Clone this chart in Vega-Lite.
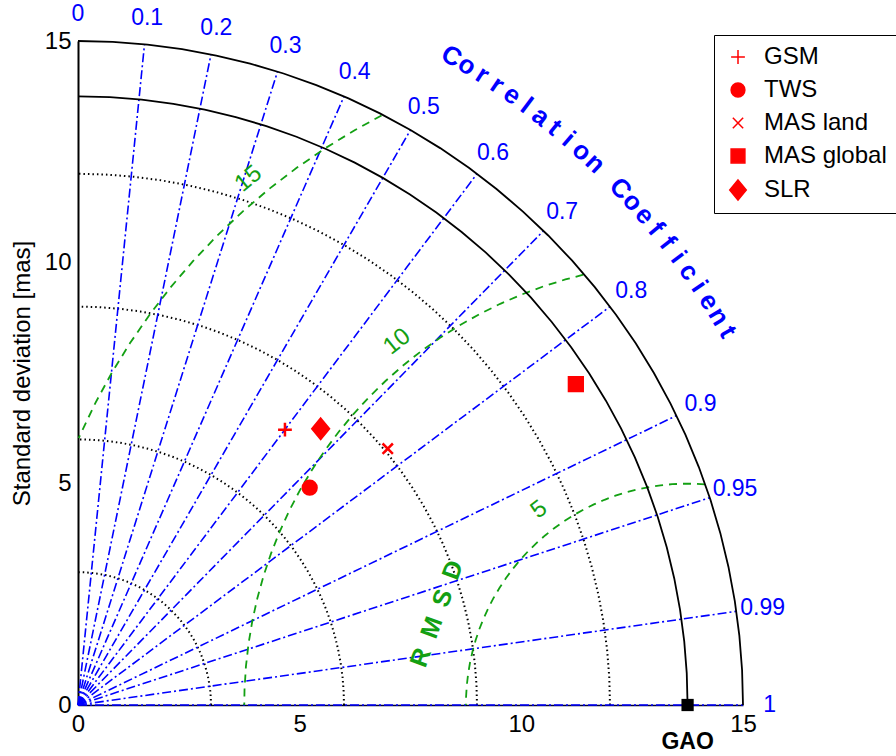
{
  "$schema": "https://vega.github.io/schema/vega-lite/v6.json",
  "width": 665,
  "height": 664,
  "autosize": {"type": "none"},
  "padding": {"left": 78, "top": 41, "right": 153, "bottom": 51},
  "background": "white",
  "config": {"view": {"stroke": null}, "font": "Liberation Sans"},
  "datasets": {
    "arcs": [
      {"id": "d3", "kind": "dot", "cx": 0, "r": 3, "deg": [0,3,6,9,12,15,18,21,24,27,30,33,36,39,42,45,48,51,54,57,60,63,66,69,72,75,78,81,84,87,90]},
      {"id": "d6", "kind": "dot", "cx": 0, "r": 6, "deg": [0,3,6,9,12,15,18,21,24,27,30,33,36,39,42,45,48,51,54,57,60,63,66,69,72,75,78,81,84,87,90]},
      {"id": "d9", "kind": "dot", "cx": 0, "r": 9, "deg": [0,3,6,9,12,15,18,21,24,27,30,33,36,39,42,45,48,51,54,57,60,63,66,69,72,75,78,81,84,87,90]},
      {"id": "d12", "kind": "dot", "cx": 0, "r": 12, "deg": [0,3,6,9,12,15,18,21,24,27,30,33,36,39,42,45,48,51,54,57,60,63,66,69,72,75,78,81,84,87,90]},
      {"id": "sref", "kind": "solid", "cx": 0, "r": 13.75, "deg": [0,3,6,9,12,15,18,21,24,27,30,33,36,39,42,45,48,51,54,57,60,63,66,69,72,75,78,81,84,87,90]},
      {"id": "s15", "kind": "solid", "cx": 0, "r": 15, "deg": [0,3,6,9,12,15,18,21,24,27,30,33,36,39,42,45,48,51,54,57,60,63,66,69,72,75,78,81,84,87,90]},
      {"id": "g5", "kind": "rms", "cx": 13.75, "r": 5, "deg": [85.5,88,91,94,97,100,103,106,109,112,115,118,121,124,127,130,133,136,139,142,145,148,151,154,157,160,163,166,169,172,175,178,180]},
      {"id": "g10", "kind": "rms", "cx": 13.75, "r": 10, "deg": [103.6,106,109,112,115,118,121,124,127,130,133,136,139,142,145,148,151,154,157,160,163,166,169,172,175,178,180]},
      {"id": "g15", "kind": "rms", "cx": 13.75, "r": 15, "deg": [117.4,120,123,126,129,132,135,138,141,144,147,150,153,156.3]}
    ],
    "corr": [
      {"c": 0, "label": "0"},
      {"c": 0.1, "label": "0.1"},
      {"c": 0.2, "label": "0.2"},
      {"c": 0.3, "label": "0.3"},
      {"c": 0.4, "label": "0.4"},
      {"c": 0.5, "label": "0.5"},
      {"c": 0.6, "label": "0.6"},
      {"c": 0.7, "label": "0.7"},
      {"c": 0.8, "label": "0.8"},
      {"c": 0.9, "label": "0.9"},
      {"c": 0.95, "label": "0.95"},
      {"c": 0.99, "label": "0.99"},
      {"c": 1, "label": "1"}
    ],
    "ctitle": [
      {"ch": "C", "theta": 60.10}, {"ch": "o", "theta": 58.73}, {"ch": "r", "theta": 57.35},
      {"ch": "r", "theta": 55.98}, {"ch": "e", "theta": 54.61}, {"ch": "l", "theta": 53.24},
      {"ch": "a", "theta": 51.86}, {"ch": "t", "theta": 50.49}, {"ch": "i", "theta": 49.12},
      {"ch": "o", "theta": 47.74}, {"ch": "n", "theta": 46.37},
      {"ch": "C", "theta": 43.62}, {"ch": "o", "theta": 42.25}, {"ch": "e", "theta": 40.88},
      {"ch": "f", "theta": 39.51}, {"ch": "f", "theta": 38.13}, {"ch": "i", "theta": 36.76},
      {"ch": "c", "theta": 35.39}, {"ch": "i", "theta": 34.01}, {"ch": "e", "theta": 32.64},
      {"ch": "n", "theta": 31.27}, {"ch": "t", "theta": 29.90}
    ],
    "rmslab": [
      {"label": "5", "d": 5.54, "phi": 127.2},
      {"label": "10", "d": 10.5, "phi": 128.6},
      {"label": "15", "d": 15.47, "phi": 129.8},
      {"label": "R\u2002M\u2002S\u2002D", "d": 6.02, "phi": 160}
    ],
    "obs": [
      {"name": "GSM", "std": 7.776, "corr": 0.6003},
      {"name": "TWS", "std": 7.171, "corr": 0.7288},
      {"name": "MAS land", "std": 9.074, "corr": 0.7699},
      {"name": "MAS global", "std": 13.367, "corr": 0.8401},
      {"name": "SLR", "std": 8.302, "corr": 0.6593},
      {"name": "GAO", "std": 13.75, "corr": 1}
    ]
  },
  "encoding": {
    "x": {
      "field": "x", "type": "quantitative",
      "scale": {"domain": [0, 15], "nice": false, "zero": false},
      "axis": {"values": [0, 5, 10, 15], "grid": false, "ticks": false, "title": null, "labelFontSize": 24, "labelColor": "black", "labelPadding": 7, "labelFlush": false, "domainColor": "#000030", "domainWidth": 1.5}
    },
    "y": {
      "field": "y", "type": "quantitative",
      "scale": {"domain": [0, 15], "nice": false, "zero": false},
      "axis": {"values": [0, 5, 10, 15], "grid": false, "ticks": false, "title": "Standard deviation [mas]", "titleFontSize": 24, "titleFontWeight": "normal", "titleColor": "black", "titlePadding": 10, "labelFontSize": 24, "labelColor": "black", "labelPadding": 7, "labelFlush": false, "domainColor": "black", "domainWidth": 2}
    }
  },
  "layer": [
    {
      "data": {"name": "arcs"},
      "transform": [
        {"filter": "datum.kind === 'dot'"},
        {"flatten": ["deg"]},
        {"calculate": "datum.cx + datum.r * cos(datum.deg * PI / 180)", "as": "x"},
        {"calculate": "datum.r * sin(datum.deg * PI / 180)", "as": "y"}
      ],
      "mark": {"type": "line", "color": "black", "strokeWidth": 2, "strokeDash": [1.5, 3]},
      "encoding": {"detail": {"field": "id"}, "order": {"field": "deg", "type": "quantitative"}}
    },
    {
      "data": {"name": "corr"},
      "transform": [
        {"filter": "datum.c > 0"},
        {"calculate": "0", "as": "x"},
        {"calculate": "0", "as": "y"},
        {"calculate": "15 * datum.c", "as": "x2"},
        {"calculate": "15 * sqrt(1 - datum.c * datum.c)", "as": "y2"}
      ],
      "mark": {"type": "rule", "color": "#0000ff", "strokeWidth": 1.6, "strokeDash": [9, 3, 2, 3]},
      "encoding": {"x2": {"field": "x2"}, "y2": {"field": "y2"}}
    },
    {
      "data": {"name": "arcs"},
      "transform": [
        {"filter": "datum.kind === 'rms'"},
        {"flatten": ["deg"]},
        {"calculate": "datum.cx + datum.r * cos(datum.deg * PI / 180)", "as": "x"},
        {"calculate": "datum.r * sin(datum.deg * PI / 180)", "as": "y"}
      ],
      "mark": {"type": "line", "color": "#13a013", "strokeWidth": 1.8, "strokeDash": [8, 6]},
      "encoding": {"detail": {"field": "id"}, "order": {"field": "deg", "type": "quantitative"}}
    },
    {
      "data": {"name": "arcs"},
      "transform": [
        {"filter": "datum.kind === 'solid'"},
        {"flatten": ["deg"]},
        {"calculate": "datum.cx + datum.r * cos(datum.deg * PI / 180)", "as": "x"},
        {"calculate": "datum.r * sin(datum.deg * PI / 180)", "as": "y"}
      ],
      "mark": {"type": "line", "color": "black", "strokeWidth": 1.8},
      "encoding": {"detail": {"field": "id"}, "order": {"field": "deg", "type": "quantitative"}}
    },
    {
      "data": {"name": "corr"},
      "transform": [
        {"calculate": "15.6 * datum.c", "as": "x"},
        {"calculate": "15.6 * sqrt(1 - datum.c * datum.c)", "as": "y"}
      ],
      "mark": {"type": "text", "color": "#0000ff", "fontSize": 23, "align": "center", "baseline": "middle"},
      "encoding": {"text": {"field": "label"}}
    },
    {
      "data": {"name": "ctitle"},
      "transform": [
        {"calculate": "16.9 * cos(datum.theta * PI / 180)", "as": "x"},
        {"calculate": "16.9 * sin(datum.theta * PI / 180)", "as": "y"},
        {"calculate": "90 - datum.theta", "as": "rot"}
      ],
      "mark": {"type": "text", "color": "#0000ff", "fontSize": 26, "fontWeight": "bold", "align": "center", "baseline": "middle"},
      "encoding": {"text": {"field": "ch"}, "angle": {"field": "rot", "type": "quantitative", "scale": null}}
    },
    {
      "data": {"name": "rmslab"},
      "transform": [
        {"filter": "datum.phi < 150"},
        {"calculate": "13.75 + datum.d * cos(datum.phi * PI / 180)", "as": "x"},
        {"calculate": "datum.d * sin(datum.phi * PI / 180)", "as": "y"},
        {"calculate": "90 - datum.phi", "as": "rot"}
      ],
      "mark": {"type": "text", "color": "#13a013", "fontSize": 24, "align": "center", "baseline": "middle"},
      "encoding": {"text": {"field": "label"}, "angle": {"field": "rot", "type": "quantitative", "scale": null}}
    },
    {
      "data": {"name": "rmslab"},
      "transform": [
        {"filter": "datum.phi >= 150"},
        {"calculate": "13.75 + datum.d * cos(datum.phi * PI / 180)", "as": "x"},
        {"calculate": "datum.d * sin(datum.phi * PI / 180)", "as": "y"},
        {"calculate": "90 - datum.phi", "as": "rot"}
      ],
      "mark": {"type": "text", "color": "#13a013", "fontSize": 25, "fontWeight": "bold", "align": "center", "baseline": "middle"},
      "encoding": {"text": {"field": "label"}, "angle": {"field": "rot", "type": "quantitative", "scale": null}}
    },
    {
      "data": {"name": "obs"},
      "transform": [
        {"filter": "datum.name !== 'GAO'"},
        {"calculate": "datum.std * datum.corr", "as": "x"},
        {"calculate": "datum.std * sqrt(1 - datum.corr * datum.corr)", "as": "y"}
      ],
      "mark": {"type": "point", "filled": true, "color": "red", "stroke": "red", "strokeWidth": 2.5, "opacity": 1, "size": 190},
      "encoding": {
        "shape": {
          "field": "name", "type": "nominal",
          "scale": {
            "domain": ["GSM", "TWS", "MAS land", "MAS global", "SLR"],
            "range": ["M-1,0L1,0M0,-1L0,1", "circle", "M-0.75,-0.75L0.75,0.75M-0.75,0.75L0.75,-0.75", "square", "M0,-1.45L1.2,0L0,1.45L-1.2,0Z"]
          },
          "legend": {
            "title": null, "orient": "none", "legendX": 636, "legendY": -6,
            "strokeColor": "black", "fillColor": "white", "padding": 10,
            "labelFontSize": 24, "labelColor": "black", "labelFont": "Liberation Sans", "labelOffset": 14,
            "symbolOffset": 2,
            "rowPadding": 9, "symbolSize": 190,
            "encode": {"symbols": {"update": {"fill": {"value": "red"}, "stroke": {"value": "red"}, "strokeWidth": {"value": 2.5}, "opacity": {"value": 1}}}}
          }
        }
      }
    },
    {
      "data": {"name": "obs"},
      "transform": [
        {"filter": "datum.name === 'GAO'"},
        {"calculate": "datum.std * datum.corr", "as": "x"},
        {"calculate": "datum.std * sqrt(1 - datum.corr * datum.corr)", "as": "y"}
      ],
      "mark": {"type": "square", "color": "black", "opacity": 1, "size": 150}
    },
    {
      "data": {"name": "obs"},
      "transform": [
        {"filter": "datum.name === 'GAO'"},
        {"calculate": "datum.std * datum.corr", "as": "x"},
        {"calculate": "datum.std * sqrt(1 - datum.corr * datum.corr)", "as": "y"}
      ],
      "mark": {"type": "text", "color": "black", "fontSize": 23, "fontWeight": "bold", "align": "center", "baseline": "middle", "dy": 37},
      "encoding": {"text": {"field": "name"}}
    },
    {
      "data": {"values": [{"t": "χ"}]},
      "mark": {"type": "text", "font": "DejaVu Serif", "fontStyle": "italic", "fontSize": 25, "color": "black", "align": "center", "baseline": "alphabetic"},
      "encoding": {"x": {"datum": 7.36}, "y": {"datum": 15.48}, "text": {"field": "t"}}
    },
    {
      "data": {"values": [{"t": "2"}]},
      "mark": {"type": "text", "fontSize": 18, "fontWeight": "bold", "color": "black", "align": "center", "baseline": "middle"},
      "encoding": {"x": {"datum": 7.69}, "y": {"datum": 15.38}, "text": {"field": "t"}}
    }
  ]
}
